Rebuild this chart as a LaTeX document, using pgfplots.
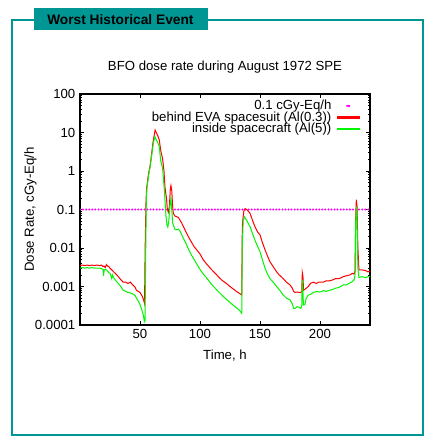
\documentclass[border=0pt]{standalone}
\usepackage{pgfplots}
\pgfplotsset{compat=1.18}
\usepackage{fontspec}
\setmainfont{Liberation Sans}
\definecolor{boxteal}{RGB}{0,150,148}
\definecolor{gpred}{RGB}{255,0,0}
\definecolor{gpgreen}{RGB}{0,245,0}
\definecolor{gpmag}{RGB}{255,0,255}

\begin{document}
\fontsize{9.9}{11.5}\selectfont
\begin{tikzpicture}[x=0.75pt,y=-0.75pt]
% page frame (1 unit = 1 px of the reference)
\fill[white] (0,0) rectangle (429,442);
\draw[boxteal,line width=1.1pt] (12,20) rectangle (423,435);
\fill[boxteal] (34,8) rectangle (208,30);
\node[anchor=west,inner sep=0,font=\bfseries\fontsize{10.3}{12}\selectfont] at (47,19.5) {Worst Historical Event};

\begin{axis}[
    at={(60pt,-243.75pt)}, anchor=south west,
    scale only axis,
    width=217.5pt, height=173.25pt,
    ymode=log,
    xmin=0, xmax=241.7,
    ymin=1e-4, ymax=100,
    xtick={50,100,150,200},
    ytick={1e-4,1e-3,1e-2,1e-1,1,10,100},
    yticklabels={0.0001,0.001,0.01,0.1,1,10,100},
    tick align=inside,
    major tick length=3pt,
    minor tick length=1.6pt,
    axis line style={line width=0.8pt},
    every tick/.style={black,line width=0.6pt},
    /pgf/number format/assume math mode=true,
    title={BFO dose rate during August 1972 SPE},
    title style={at={(axis description cs:0.5,1.082)},anchor=center,inner sep=0},
    xlabel={Time, h},
    xlabel style={at={(axis description cs:0.5,-0.134)},anchor=center,inner sep=0},
    ylabel={Dose Rate, cGy-Eq/h},
    ylabel style={at={(axis description cs:-0.171,0.5)},anchor=center,rotate=0,inner sep=0},
    legend plot pos=right,
    legend cell align=right,
    legend style={draw=none,fill=none,at={(axis description cs:0.9655,0.983)},anchor=north east,
        row sep=-3pt,column sep=2.5pt,inner sep=0pt,
        nodes={inner sep=1.5pt}},
]
\addplot[gpmag,line width=1.7pt,line cap=round,dash pattern=on 0pt off 2.3pt,
    legend image code/.code={\fill[gpmag] (8.25pt,0pt) circle (0.85pt);}]
    coordinates {(0,0.1) (241.7,0.1)};
\addlegendentry{0.1 cGy-Eq/h}

\addplot[gpred,line width=0.75pt,
    legend image code/.code={\fill[gpred] (0pt,-0.5pt) rectangle (16.5pt,0.5pt);}] coordinates {
(0,0.0035)(2,0.0036)(4,0.0035)(6,0.0036)(8,0.0035)(10,0.0036)(12,0.0035)(14,0.0036)(16,0.0035)(18,0.0036)
(19,0.0033)(20,0.0034)(21,0.0031)(22,0.0037)(23,0.0034)(24,0.0033)(25,0.0030)(26,0.0028)(27,0.0026)(28,0.0024)
(30,0.0021)(32,0.0018)(34,0.0015)(36,0.0013)(38,0.0013)(40,0.0012)(42,0.0013)(44,0.0011)(46,0.00095)(47,0.0008)
(50,0.0007)(52,0.00055)(53,0.00045)(53.8,0.00036)(54.3,0.01)(55,0.15)(55.5,0.35)(57,0.8)(58.3,1.3)(59.5,2.5)
(61,6)(62,9)(62.6,11.6)(63.2,10.5)(63.9,9.5)(65,8)(66.1,6.4)(67.2,3.5)(68.8,2.1)(70,1)
(70.8,0.39)(72.2,0.18)(72.8,0.1)(73.6,0.085)(74.5,0.12)(75.3,0.35)(75.8,0.42)(76.5,0.3)(77.2,0.12)(77.8,0.08)
(79,0.068)(80.6,0.065)(82,0.062)(84.7,0.045)(87,0.032)(88.9,0.024)(91,0.018)(93,0.014)(95,0.011)(97.2,0.009)
(100,0.007)(102.8,0.0049)(106,0.0037)(109,0.0029)(112,0.0023)(114,0.002)(116,0.0017)(119,0.0014)(122,0.0012)(125,0.001)
(128,0.00085)(131,0.00072)(133,0.00066)(134.8,0.0006)(135.3,0.04)(136.5,0.09)(137.5,0.105)(139,0.1)(141.7,0.08)(144,0.05)
(145.8,0.036)(148,0.026)(150,0.022)(152,0.014)(154.2,0.009)(156,0.0065)(158.3,0.0044)(161,0.0033)(163.9,0.0024)(166,0.002)
(169.4,0.0016)(172,0.0013)(175,0.0011)(177,0.0009)(178,0.00075)(179.2,0.0007)(181,0.00072)(183,0.0007)(184.8,0.00072)(185.3,0.0023)
(185.8,0.0019)(186.3,0.0008)(187.5,0.00085)(190.3,0.001)(192,0.0012)(194.4,0.0013)(197,0.0012)(199,0.0013)(202.8,0.0013)(205,0.0014)
(208,0.0014)(211,0.0015)(213,0.0016)(216,0.0016)(219.4,0.0018)(222,0.0019)(225,0.002)(227,0.0022)(228.3,0.0021)(229.2,0.0025)
(229.8,0.06)(230.3,0.18)(230.9,0.12)(231.6,0.01)(232.5,0.0027)(235,0.0027)(238,0.0026)(240,0.0024)(241.7,0.0025)
};
\addlegendentry{behind EVA spacesuit (Al(0.3))}

\addplot[gpgreen,line width=0.75pt,
    legend image code/.code={\fill[gpgreen] (0pt,-0.5pt) rectangle (16.5pt,0.5pt);}] coordinates {
(0,0.003)(2,0.0031)(4,0.003)(6,0.0031)(8,0.003)(10,0.0031)(12,0.003)(14,0.003)(16,0.003)(18,0.0029)
(19.2,0.0028)(19.6,0.0019)(20.2,0.0027)(21,0.0028)(22,0.0027)(23,0.0025)(24,0.0023)(25,0.0022)(26,0.0018)(26.5,0.0016)
(27,0.002)(28,0.0017)(30,0.0014)(32,0.0012)(34,0.001)(36,0.0008)(38,0.00075)(40,0.0007)(42,0.00068)(44.4,0.00063)
(46,0.00058)(47,0.0005)(48.5,0.00042)(50,0.00034)(51.5,0.00025)(53,0.00017)(53.6,0.00012)(54.2,0.00013)(54.8,0.01)(55.3,0.2)
(55.8,0.35)(57,0.7)(58.3,1.2)(59.5,2.2)(61,5)(62,7)(62.5,7.7)(63.2,6.8)(64.4,5.8)(66.1,4.3)
(67.2,1.9)(68.8,1.2)(70.3,0.32)(71.7,0.065)(72.5,0.04)(73.2,0.035)(74,0.05)(75,0.13)(75.8,0.19)(76.5,0.1)
(77.2,0.045)(79.2,0.03)(80.6,0.03)(82,0.031)(83.5,0.027)(84.7,0.022)(86.5,0.017)(88.9,0.012)(91,0.0085)(93,0.0065)
(96,0.0045)(100,0.0028)(102.8,0.0021)(106,0.0016)(109,0.0012)(112,0.00095)(116,0.0007)(120,0.00053)(124,0.00041)(128,0.00032)
(131,0.00027)(133,0.00024)(134.8,0.0002)(135.2,0.01)(136,0.05)(137,0.064)(138.5,0.055)(140,0.045)(141.7,0.036)(143.5,0.025)
(145.8,0.016)(148,0.011)(150,0.0081)(152,0.005)(154.2,0.003)(156,0.0022)(158.3,0.0016)(161,0.0013)(163.9,0.001)(166.5,0.0008)
(169.4,0.0006)(172,0.0005)(175,0.00045)(177,0.00035)(178,0.00027)(179.2,0.00027)(181,0.0003)(182.5,0.00029)(184,0.00027)(184.8,0.0003)
(185.2,0.0015)(185.7,0.0009)(186.2,0.00033)(187.5,0.00034)(188.5,0.0005)(190.3,0.0006)(192,0.00062)(194.4,0.0007)(197.2,0.00074)(200,0.00072)
(203,0.00078)(205,0.00075)(208.3,0.0008)(211,0.00085)(213,0.0009)(216,0.00095)(219.4,0.0011)(222,0.0011)(224,0.0012)(226.4,0.0013)
(228.5,0.0015)(229.2,0.002)(229.8,0.05)(230.3,0.12)(230.9,0.06)(231.6,0.003)(232.5,0.0017)(235,0.0018)(238,0.0017)(240,0.0018)
(241.7,0.0018)
};
\addlegendentry{inside spacecraft (Al(5))}
\end{axis}
\end{tikzpicture}
\end{document}
